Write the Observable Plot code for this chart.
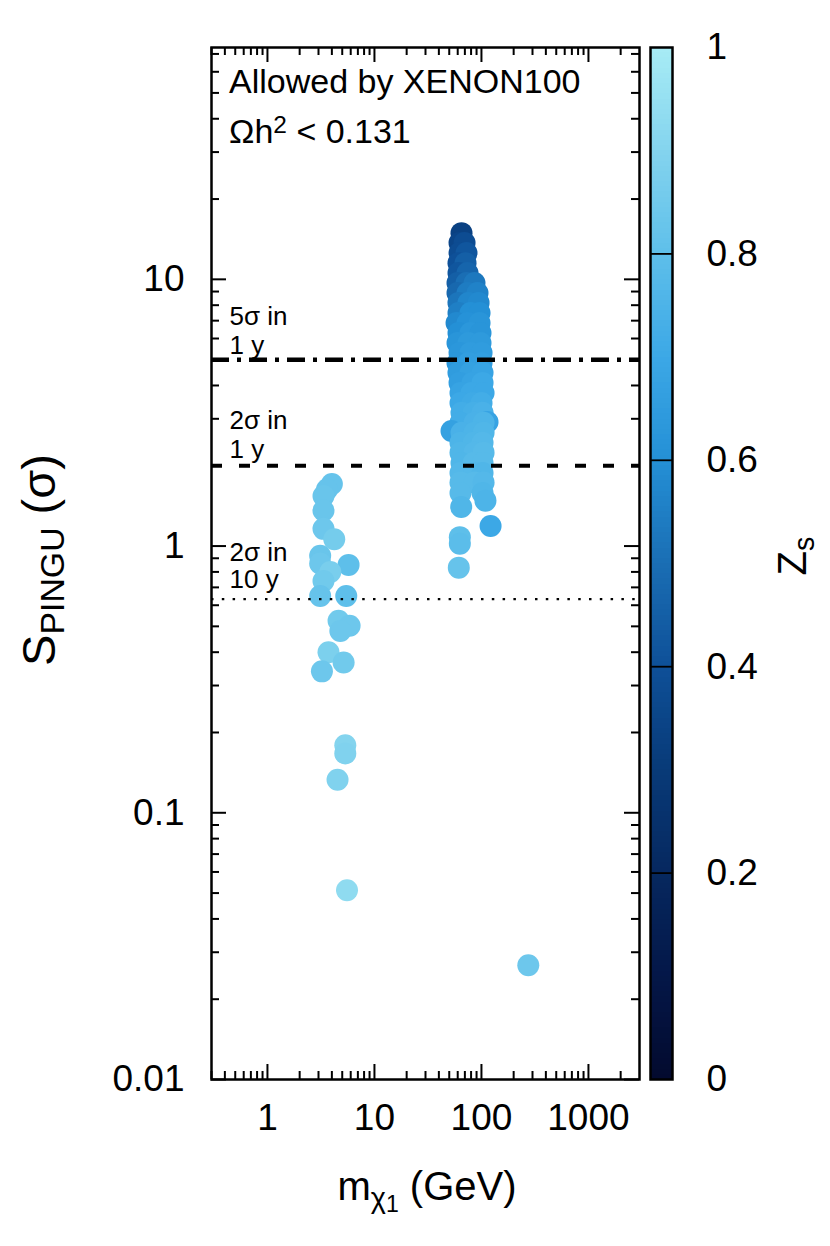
<!DOCTYPE html>
<html><head><meta charset="utf-8">
<script src="https://cdn.jsdelivr.net/npm/d3@7"></script>
<script src="https://cdn.jsdelivr.net/npm/@observablehq/plot@0.6"></script>
<style>
body{margin:0;background:#fff;}
#wrap{position:relative;width:830px;height:1246px;font-family:"Liberation Sans",Helvetica,Arial,sans-serif;color:#000;}
#wrap svg{position:absolute;left:0;top:0;}
.lbl{position:absolute;white-space:nowrap;line-height:1;}
.sub{position:relative;font-size:0.72em;top:0.28em;}
.sup{position:relative;font-size:0.72em;top:-0.42em;}
</style></head><body>
<div id="wrap"></div>
<script>
// ---- data ----
const mass = [
  // light cluster at a few GeV + heavy outlier
  4.0,3.6,3.34,3.34,3.34,4.21,3.11,3.11,5.73,3.87,3.34,3.11,5.45,4.62,5.86,4.8,3.72,5.15,3.23,5.34,5.34,4.52,5.54,274,
  // main column near 60-120 GeV
  65.1, 62.4,69.5, 62.4,72.5, 61.0,71.0, 61.0,74.1, 59.7,72.5,86.1, 59.7,74.1,91.9, 61.0,75.7,94.0,
  61.0,79.0,96.0, 58.5,74.1,96.0, 61.0,79.0,98.0, 59.7,75.7,98.0, 62.4,79.0,100.2, 59.7,75.7,100.2,
  61.0,79.0,102.4, 62.4,82.6,102.4, 63.7,80.7,104.7, 63.7,82.6,100.2, 65.1,84.4,102.4, 114,
  63.7,86.1,104.7, 52.5, 65.1,86.1,104.7, 63.7,84.4,102.4, 63.7,86.1,104.7, 65.1,84.4,102.4,
  63.7,86.1,102.4, 63.7,86.1,104.7, 63.7,102.4, 109, 64.7, 121.7, 62.8, 62.8, 61.4
];
const signif = [
  1.71,1.63,1.54,1.36,1.16,1.06,0.92,0.86,0.85,0.80,0.74,0.65,0.65,0.525,0.503,0.48,0.40,0.366,0.339,0.179,0.167,0.133,0.0512,0.0268,
  14.9, 13.7,13.7, 12.55,12.55, 11.5,11.5, 10.56,10.56, 9.69,9.69,9.69, 8.89,8.89,8.89, 8.16,8.16,8.16,
  7.48,7.48,7.48, 6.86,6.86,6.86, 6.29,6.29,6.29, 5.77,5.77,5.77, 5.30,5.30,5.30, 4.86,4.86,4.86,
  4.46,4.46,4.46, 4.09,4.09,4.09, 3.75,3.75,3.75, 3.44,3.44,3.44, 3.16,3.16,3.16, 2.92,
  2.90,2.90,2.90, 2.70, 2.66,2.66,2.66, 2.44,2.44,2.44, 2.24,2.24,2.24, 2.05,2.05,2.05,
  1.88,1.88,1.88, 1.73,1.73,1.73, 1.58,1.58, 1.48, 1.40, 1.19, 1.08, 1.02, 0.83
];
const zs = [
  0.82,0.82,0.83,0.83,0.84,0.86,0.83,0.84,0.80,0.87,0.85,0.82,0.80,0.85,0.84,0.84,0.88,0.85,0.84,0.90,0.89,0.89,0.93,0.84,
  0.33, 0.35,0.38, 0.38,0.42, 0.40,0.45, 0.42,0.47, 0.45,0.50,0.53, 0.48,0.54,0.56, 0.52,0.57,0.58,
  0.55,0.60,0.60, 0.58,0.61,0.62, 0.60,0.63,0.62, 0.62,0.64,0.64, 0.63,0.65,0.65, 0.63,0.66,0.66,
  0.65,0.67,0.68, 0.66,0.68,0.70, 0.68,0.70,0.70, 0.70,0.71,0.72, 0.72,0.73,0.74, 0.68,
  0.72,0.74,0.75, 0.67, 0.74,0.75,0.76, 0.75,0.76,0.77, 0.76,0.77,0.78, 0.76,0.78,0.78,
  0.77,0.77,0.76, 0.78,0.78,0.77, 0.78,0.76, 0.75, 0.76, 0.70, 0.80, 0.79, 0.82
];
const thresholds = [5, 2, 0.632];
const thresholdText = ["5\u03c3 in\n1 y", "2\u03c3 in\n1 y", "2\u03c3 in\n10 y"];
const xMajor = [1, 10, 100, 1000];
const xMinor = [0.3,0.4,0.5,0.6,0.7,0.8,0.9, 2,3,4,5,6,7,8,9, 20,30,40,50,60,70,80,90, 200,300,400,500,600,700,800,900, 2000];
const yMajor = [0.01, 0.1, 1, 10];
const yMinor = [0.02,0.03,0.04,0.05,0.06,0.07,0.08,0.09, 0.2,0.3,0.4,0.5,0.6,0.7,0.8,0.9, 2,3,4,5,6,7,8,9, 20,30,40,50,60,70];
const zTicks = [0, 0.2, 0.4, 0.6, 0.8, 1];
const zStops = [0, 0.1, 0.2, 0.3, 0.4, 0.5, 0.6, 0.7, 0.8, 0.9, 1];
const zColors = ["#030a2e","#041748","#06285f","#083a78","#0e5098","#1a6eb4","#2490d6","#3ca8e6","#5ebfea","#84d4ee","#a8ecf5"];

const points = mass.map((m, i) => ({m, s: signif[i], z: zs[i]}));
const thr = thresholds.map((v, i) => ({v, t: thresholdText[i]}));

const W = 830, H = 1246, mT = 47, mB = 167, mL = 211, mR = 191;
const innerH = H - mT - mB, innerW = W - mL - mR;
const font = "'Liberation Sans', Helvetica, Arial, sans-serif";
const colorScale = {type: "linear", domain: zStops, range: zColors};

const main = Plot.plot({
  width: W, height: H, marginTop: mT, marginBottom: mB, marginLeft: mL, marginRight: mR,
  style: {fontFamily: font, background: "transparent", color: "#000"},
  x: {type: "log", domain: [0.3, 3000]},
  y: {type: "log", domain: [0.01, 74]},
  color: colorScale,
  marks: [
    Plot.dot(points, {x: "m", y: "s", fill: "z", r: 11}),
    Plot.ruleY([thresholds[0]], {stroke: "#000", strokeWidth: 4.5, strokeDasharray: "18,8,4,8"}),
    Plot.ruleY([thresholds[1]], {stroke: "#000", strokeWidth: 4, strokeDasharray: "11,17"}),
    Plot.ruleY([thresholds[2]], {stroke: "#000", strokeWidth: 2.2, strokeDasharray: "2.5,8.3"}),
    Plot.text([thr[0]], {y: "v", text: "t", frameAnchor: "left", textAnchor: "start", lineAnchor: "bottom", dx: 18, dy: -6, fontSize: 26, lineHeight: 1.12}),
    Plot.text([thr[1]], {y: "v", text: "t", frameAnchor: "left", textAnchor: "start", lineAnchor: "bottom", dx: 18, dy: -8, fontSize: 26, lineHeight: 1.1}),
    Plot.text([thr[2]], {y: "v", text: "t", frameAnchor: "left", textAnchor: "start", lineAnchor: "bottom", dx: 18, dy: -11, fontSize: 26, lineHeight: 1.06}),
    // inward ticks, all four sides
    Plot.ruleX(xMajor, {x: d => d, insetTop: innerH - 15, strokeWidth: 2}),
    Plot.ruleX(xMajor, {x: d => d, insetBottom: innerH - 15, strokeWidth: 2}),
    Plot.ruleX(xMinor, {x: d => d, insetTop: innerH - 8, strokeWidth: 2}),
    Plot.ruleX(xMinor, {x: d => d, insetBottom: innerH - 8, strokeWidth: 2}),
    Plot.ruleY(yMajor, {y: d => d, insetRight: innerW - 15, strokeWidth: 2}),
    Plot.ruleY(yMajor, {y: d => d, insetLeft: innerW - 15, strokeWidth: 2}),
    Plot.ruleY(yMinor, {y: d => d, insetRight: innerW - 8, strokeWidth: 2}),
    Plot.ruleY(yMinor, {y: d => d, insetLeft: innerW - 8, strokeWidth: 2}),
    Plot.frame({stroke: "#000", strokeWidth: 2.5}),
    Plot.axisX({anchor: "bottom", ticks: xMajor, tickSize: 0, tickPadding: 24, fontSize: 37, tickFormat: d => String(d), label: null}),
    Plot.axisY({anchor: "left", ticks: yMajor, tickSize: 0, tickPadding: 27, fontSize: 37, tickFormat: d => String(d), label: null})
  ]
});

const step = 0.005;
const barSteps = d3.range(0, 1, step);
const bar = Plot.plot({
  width: W, height: H, marginTop: mT, marginBottom: mB, marginLeft: 650, marginRight: W - 672,
  style: {fontFamily: font, background: "transparent", color: "#000"},
  x: {domain: [0, 1], axis: null},
  y: {domain: [0, 1]},
  color: colorScale,
  marks: [
    Plot.rect(barSteps, {x1: 0, x2: 1, y1: d => d, y2: d => Math.min(1, d + step * 1.5), fill: d => d + step / 2, shapeRendering: "crispEdges"}),
    Plot.ruleY(zTicks.slice(1, -1), {stroke: "#000", strokeWidth: 1.8}),
    Plot.frame({stroke: "#000", strokeWidth: 2.5}),
    Plot.axisY({anchor: "right", ticks: zTicks, tickSize: 0, tickPadding: 34, fontSize: 37, tickFormat: d => String(d), label: null})
  ]
});

const wrap = document.getElementById("wrap");
wrap.appendChild(main);
wrap.appendChild(bar);

function addLabel(html, css) {
  const d = document.createElement("div");
  d.className = "lbl";
  d.innerHTML = html;
  Object.assign(d.style, css);
  wrap.appendChild(d);
  return d;
}
addLabel("Allowed by XENON100", {left: "229px", top: "64px", fontSize: "34px"});
addLabel("\u03a9h<span class='sup'>2</span> &lt; 0.131", {left: "229px", top: "114px", fontSize: "34px"});
addLabel("m<span class='sub'>\u03c7<span style='font-size:0.8em;position:relative;top:0.15em'>1</span></span> (GeV)", {left: "427px", top: "1186px", fontSize: "40px", transform: "translate(-50%,-50%)"});
addLabel("S<span class='sub'>PINGU</span> (\u03c3)", {left: "38px", top: "560px", fontSize: "47px", transform: "translate(-50%,-50%) rotate(-90deg)"});
addLabel("Z<span class='sub'>s</span>", {left: "792px", top: "556px", fontSize: "40px", transform: "translate(-50%,-50%) rotate(-90deg)"});
</script>
</body></html>
